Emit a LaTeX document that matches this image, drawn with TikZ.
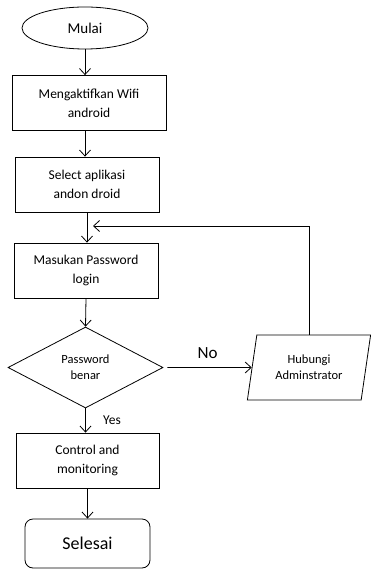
\documentclass[tikz,border=0pt]{standalone}
\usepackage{fontspec}
\setmainfont{Carlito}
\usetikzlibrary{arrows.meta, shapes.geometric}

\begin{document}
\begin{tikzpicture}[x=1pt, y=-1pt, line width=0.8pt,
        >={Straight Barb[length=6pt, width=11pt]}]
        \tikzset{
            prosesbox/.style={draw, rectangle, minimum height=55, align=center,
                font=\fontsize{13.5}{19}\selectfont},
            keputusan/.style={draw, diamond, minimum width=155, minimum height=81,
                inner sep=0pt, align=center, font=\fontsize{12.5}{16}\selectfont},
            masukan/.style={draw, trapezium, trapezium stretches=true,
                trapezium left angle=78, trapezium right angle=102,
                minimum width=124, minimum height=65, align=center,
                font=\fontsize{12.5}{16}\selectfont}
        }
        \useasboundingbox (0,0) rectangle (371,569);
        % Start and first steps
        \node[draw, ellipse, minimum width=126, minimum height=42,
            font=\fontsize{15}{18}\selectfont] (mulai) at (85,28) {Mulai};
        \node[prosesbox, minimum width=154] (wifi) at (89,103) {Mengaktifkan Wifi\\android};
        \node[prosesbox, minimum width=144] (aplikasi) at (87,184.5) {Select aplikasi\\andon droid};
        \node[prosesbox, minimum width=144] (password) at (86,270.5) {Masukan Password\\login};
        % Decision
        \node[keputusan] (cek) at (85.5,367.5) {Password\\benar};
        \node[masukan] (admin) at (309,367.5) {Hubungi\\Adminstrator};
        % End steps
        \node[prosesbox, minimum width=143] (kontrol) at (87.5,460.5) {Control and\\monitoring};
        \node[draw, rounded corners=8pt, minimum width=125, minimum height=49,
            font=\fontsize{18}{20}\selectfont] (selesai) at (87.5,543.5) {Selesai};
        % Arrows
        \draw[->] (mulai.south) -- (mulai.south |- wifi.north);
        \draw[->] (wifi.south -| mulai.south) -- (mulai.south |- aplikasi.north);
        \draw[->] (aplikasi.south) -- (aplikasi.south |- password.north);
        \draw[->] (password.south) -- (cek.north);
        \draw[->, shorten <=4pt] (cek.east) -- (admin.west)
            node[midway, above=5pt, font=\fontsize{17}{20}\selectfont] {No};
        \coordinate (balik) at (93,226);
        \draw[->] (admin.north) |- (balik);
        \draw[->] (cek.south) -- (cek.south |- kontrol.north)
            node[midway, right=14pt, font=\fontsize{13.5}{16}\selectfont] {Yes};
        \draw[->] (kontrol.south) -- (kontrol.south |- selesai.north);
    \end{tikzpicture}
\end{document}
